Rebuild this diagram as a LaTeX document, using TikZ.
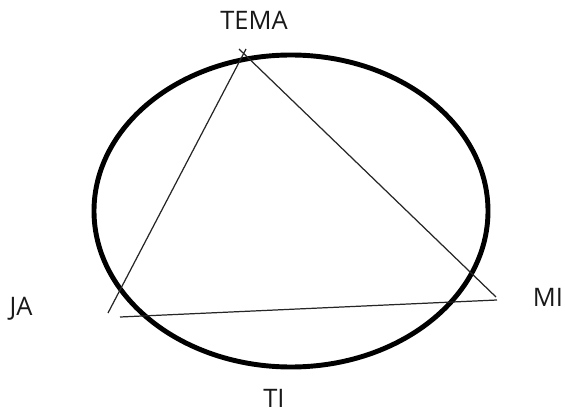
\documentclass[tikz,border=0pt]{standalone}
\usepackage{fontspec}
\setmainfont{Open Sans}
\begin{document}
\begin{tikzpicture}[x=0.02cm, y=-0.02cm,
        label/.style={text=black!90, inner sep=0pt, font=\fontsize{14.5}{17}\selectfont},
        ring/.style={draw, line width=2.8pt},
        side/.style={draw, line width=0.7pt, black!85}
      ]
      \useasboundingbox (0,0) rectangle (565,412);
      \draw[ring] (291,211) ellipse [x radius=197, y radius=156];

      \node[label] (tema) at (254,20) {TEMA};
      \node[label] (ja) at (21,309) {JA};
      \node[label] (mi) at (548,297) {MI};
      \node[label] (ti) at (274,398) {TI};

      \coordinate (topa) at (239,49);
      \coordinate (topb) at (246,49);
      \coordinate (left) at (108,313);
      \coordinate (right) at (496,297);
      \coordinate (basea) at (120,317);
      \coordinate (baseb) at (497,300);

      \draw[side] (topa) -- (right);
      \draw[side] (topb) -- (left);
      \draw[side] (basea) -- (baseb);
    \end{tikzpicture}
\end{document}
